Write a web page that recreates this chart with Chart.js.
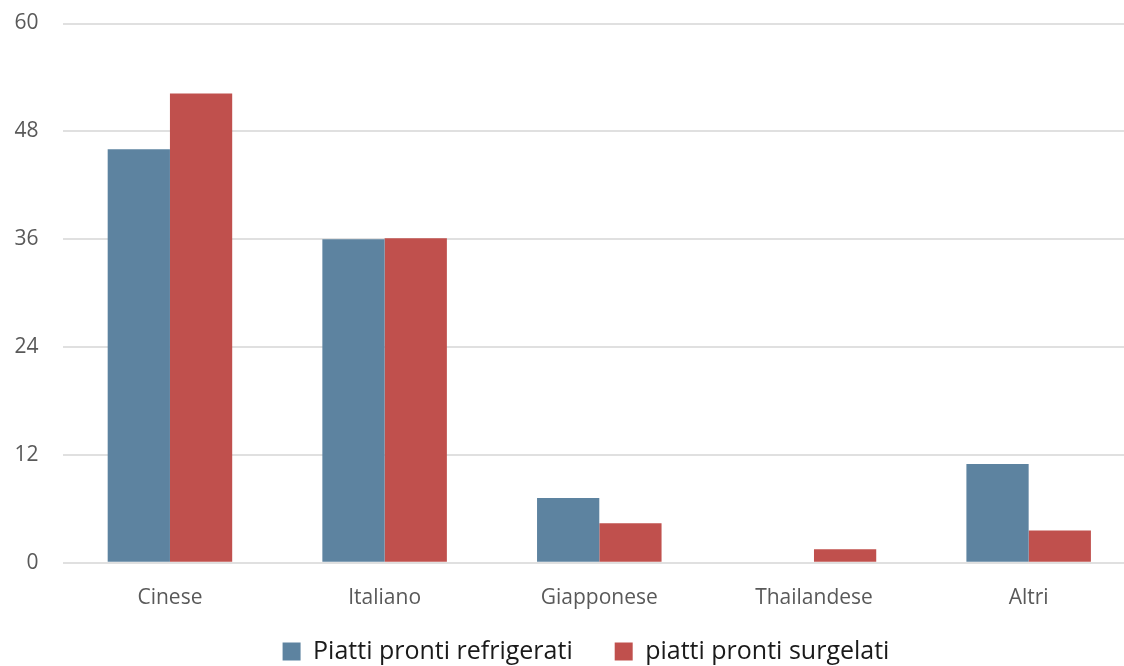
<!DOCTYPE html>
<html lang="it">
<head>
<meta charset="utf-8">
<style>
  html, body { margin: 0; padding: 0; background: #fff; overflow: hidden; }
  #wrap { width: 1136px; height: 666px; }
</style>
</head>
<body>
<div id="wrap"><canvas id="myChart"></canvas></div>
<script src="https://cdn.jsdelivr.net/npm/chart.js"></script>
<script>
const categories = ['Cinese', 'Italiano', 'Giapponese', 'Thailandese', 'Altri'];
const refrigerati = [46, 36, 7.2, 0, 11];
const surgelati = [52.2, 36.1, 4.4, 1.5, 3.6];
const yTicks = [0, 12, 24, 36, 48, 60];

const fontFamily = "'Open Sans', 'Noto Sans', sans-serif";

// wide gaps between legend items but a shallow legend box,
// and the legend sits a little right of centre as in the original
const legendTweak = {
  id: 'legendTweak',
  afterInit(chart) {
    const lg = chart.legend;
    const fit = lg.fit.bind(lg);
    lg.fit = function () { fit(); this.height = 32; };
  },
  afterLayout(chart) {
    const lg = chart.legend;
    lg.left += 18; lg.right += 18;
    lg.top = lg.bottom - 69;
  }
};

const data = {
  labels: categories,
  datasets: [{
    label: 'Piatti pronti refrigerati',
    backgroundColor: '#5d83a0',
    data: refrigerati
  }, {
    label: 'piatti pronti surgelati',
    backgroundColor: '#c0504d',
    data: surgelati
  }]
};

const config = {
  type: 'bar',
  data: data,
  plugins: [legendTweak],
  options: {
    responsive: true,
    maintainAspectRatio: false,
    animation: false,
    layout: { padding: { top: 23.5, right: 0, bottom: 0, left: 0 } },
    datasets: { bar: { categoryPercentage: 0.58, barPercentage: 1.0 } },
    plugins: {
      tooltip: { enabled: false },
      legend: {
        position: 'bottom',
        labels: {
          boxWidth: 18,
          boxHeight: 18,
          padding: 42,
          color: '#1a1a1a',
          font: { family: fontFamily, size: 25 }
        }
      }
    },
    scales: {
      x: {
        grid: { display: false, drawTicks: false },
        border: { display: false },
        ticks: { color: '#595959', padding: 23, font: { family: fontFamily, size: 21 } }
      },
      y: {
        min: 0,
        max: 60,
        afterBuildTicks: scale => { scale.ticks = yTicks.map(v => ({ value: v })); },
        afterFit: scale => { scale.width = 62.6; },
        grid: { color: '#e0e0e0', lineWidth: 2, drawTicks: true, tickLength: 24, tickColor: 'rgba(0,0,0,0)' },
        border: { display: false },
        ticks: { color: '#595959', padding: 0, font: { family: fontFamily, size: 21 } }
      }
    }
  }
};

const myChart = new Chart(document.getElementById('myChart'), config);
</script>
</body>
</html>
